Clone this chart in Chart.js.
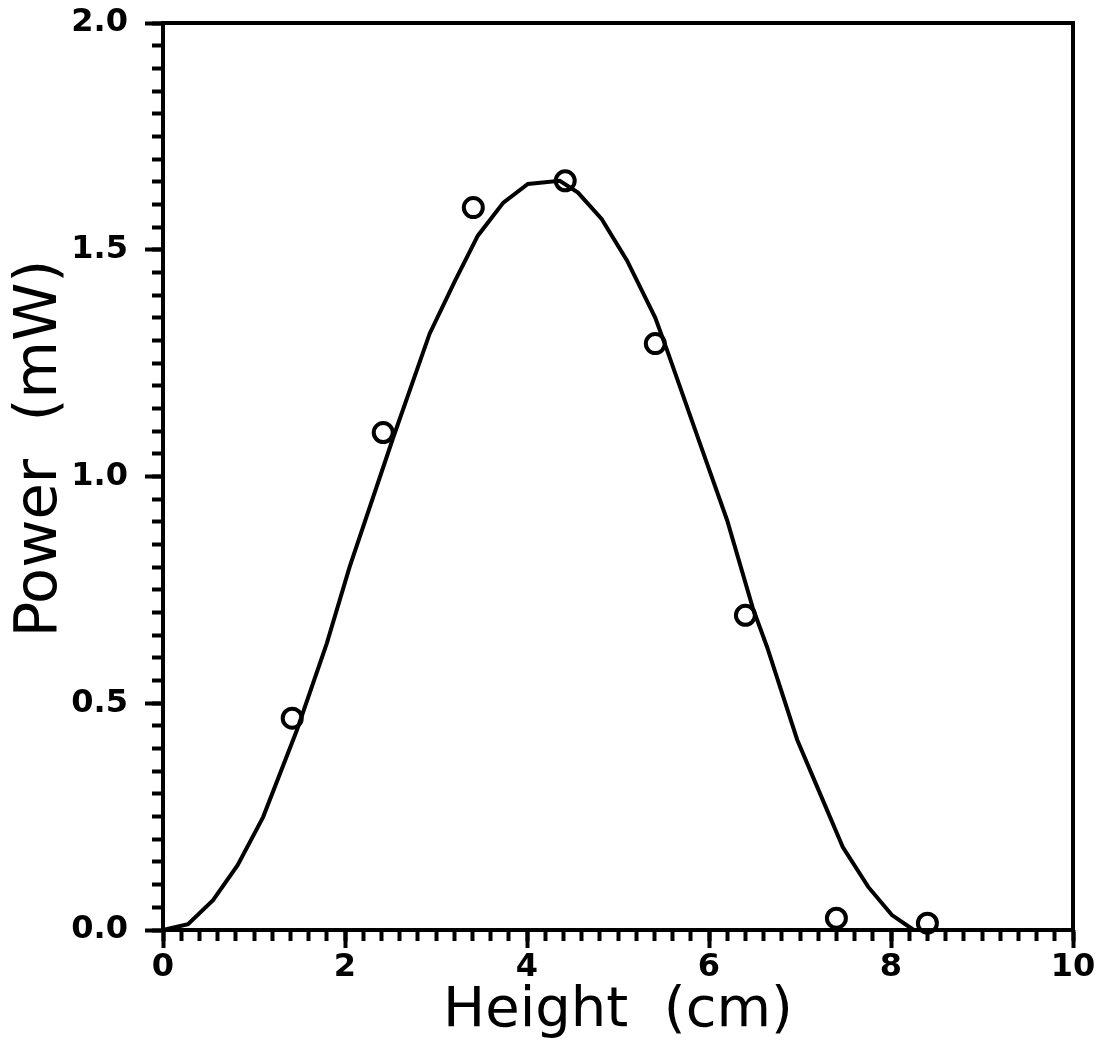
<!DOCTYPE html>
<html>
<head>
<meta charset="utf-8">
<script src="https://cdn.jsdelivr.net/npm/chart.js@4.4.0/dist/chart.umd.min.js"></script>
<style>
  html, body { margin: 0; padding: 0; background: #fff; }
  #wrap { width: 1104px; height: 1051px; }
</style>
</head>
<body>
<div id="wrap"><canvas id="graph" width="1104" height="1051"></canvas></div>
<script>
// measured points (open circles)
const heightPoints = [1.42, 2.42, 3.41, 4.42, 5.41, 6.40, 7.40, 8.40];
const powerPoints = [0.467, 1.097, 1.593, 1.652, 1.293, 0.694, 0.026, 0.015];

// fitted curve
const curveHeight = [0, 0.275, 0.55, 0.82, 1.10, 1.47, 1.80, 2.05, 2.53, 2.93, 3.21, 3.46, 3.74, 4.01, 4.36,
    4.56, 4.82, 5.10, 5.41, 5.54, 5.90, 6.20, 6.48, 6.64, 6.97, 7.19, 7.47, 7.75, 8.01, 8.25];
const curvePower = [0, 0.013, 0.066, 0.143, 0.249, 0.44, 0.632, 0.80, 1.086, 1.315, 1.432, 1.531, 1.604, 1.645, 1.652,
    1.626, 1.568, 1.476, 1.350, 1.278, 1.073, 0.903, 0.711, 0.623, 0.419, 0.315, 0.183, 0.095, 0.033, 0.0];

const xTickLabels = ["0", "2", "4", "6", "8", "10"];
const yTickLabels = ["0.0", "0.5", "1.0", "1.5", "2.0"];

const xTitle = "Height  (cm)";
const yTitle = "Power  (mW)";

const graphCanvas = document.getElementById("graph");
const graphContext = graphCanvas.getContext("2d");

const fontName = "'DejaVu Sans', sans-serif";
const ink = "#000";

const curveData = curveHeight.map((x, i) => ({ x: x, y: curvePower[i] }));
const pointData = heightPoints.map((x, i) => ({ x: x, y: powerPoints[i] }));

// axis that only draws a border line (top / right frame)
function frameAxis(position, axis) {
    return {
        type: "linear",
        position: position,
        axis: axis,
        min: 0,
        max: axis === "x" ? 10 : 2,
        grid: { display: false },
        ticks: { display: false },
        border: { display: true, color: ink, width: 4 },
        afterFit: (scale) => {
            if (axis === "x") scale.height = 0; else scale.width = 0;
        },
    };
}

// the y title in the original sits a bit above the middle of the axis
const titleNudge = {
    id: "titleNudge",
    afterLayout(chart) {
        chart.scales.yMajor.top -= 56;
    },
};

new Chart(graphContext, {
    type: "scatter",
    data: {
        datasets: [
            {
                type: "line",
                data: curveData,
                borderColor: ink,
                borderWidth: 4,
                pointRadius: 0,
                tension: 0,
                fill: false,
                clip: false,
                xAxisID: "x",
                yAxisID: "y",
                order: 2,
            },
            {
                data: pointData,
                pointStyle: "circle",
                pointRadius: 9.5,
                pointBorderWidth: 4,
                pointBorderColor: ink,
                pointBackgroundColor: "rgba(0,0,0,0)",
                showLine: false,
                clip: false,
                xAxisID: "x",
                yAxisID: "y",
                order: 1,
            },
        ],
    },
    options: {
        responsive: false,
        devicePixelRatio: 1,
        animation: false,
        layout: { padding: { left: 0, right: 31, top: 23, bottom: 0 } },
        plugins: { legend: { display: false }, tooltip: { enabled: false } },
        scales: {
            // minor ticks, sit right on the plot edge
            x: {
                type: "linear",
                position: "bottom",
                weight: 0,
                min: 0,
                max: 10,
                grid: { display: true, drawOnChartArea: false, drawTicks: true, tickLength: 11, tickWidth: 4, tickColor: ink },
                border: { display: true, color: ink, width: 4 },
                ticks: { display: false, stepSize: 0.2, maxTicksLimit: 100, autoSkip: false },
                afterFit: (scale) => { scale.height = 0; },
            },
            y: {
                type: "linear",
                position: "left",
                weight: 0,
                min: 0,
                max: 2,
                grid: { display: true, drawOnChartArea: false, drawTicks: true, tickLength: 11, tickWidth: 4, tickColor: ink },
                border: { display: true, color: ink, width: 4 },
                ticks: { display: false, stepSize: 0.05, maxTicksLimit: 100, autoSkip: false },
                afterFit: (scale) => { scale.width = 0; },
            },
            // major ticks with labels and titles
            xMajor: {
                type: "linear",
                position: "bottom",
                weight: 1,
                min: 0,
                max: 10,
                grid: { display: true, drawOnChartArea: false, drawTicks: true, tickLength: 18, tickWidth: 4, tickColor: ink },
                border: { display: false },
                ticks: {
                    stepSize: 2,
                    autoSkip: false,
                    padding: 0,
                    color: ink,
                    font: { family: fontName, size: 32, weight: "bold" },
                    callback: (value) => xTickLabels[Math.round(value / 2)],
                },
                title: {
                    display: true,
                    text: xTitle,
                    color: ink,
                    font: { family: fontName, size: 56, weight: "normal", lineHeight: 1 },
                    padding: { top: 0, bottom: 12 },
                },
                afterFit: (scale) => {
                    scale.height = 121;
                    scale.paddingLeft = 0;
                    scale.paddingRight = 0;
                },
            },
            yMajor: {
                type: "linear",
                position: "left",
                weight: 1,
                min: 0,
                max: 2,
                grid: { display: true, drawOnChartArea: false, drawTicks: true, tickLength: 18, tickWidth: 4, tickColor: ink },
                border: { display: false },
                ticks: {
                    stepSize: 0.5,
                    autoSkip: false,
                    padding: 17,
                    color: ink,
                    font: { family: fontName, size: 32, weight: "bold" },
                    callback: (value) => yTickLabels[Math.round(value / 0.5)],
                },
                title: {
                    display: true,
                    text: yTitle,
                    color: ink,
                    font: { family: fontName, size: 59, weight: "normal", lineHeight: 1 },
                    padding: { top: 11, bottom: 0 },
                },
                afterFit: (scale) => {
                    scale.width = 163;
                    scale.paddingTop = 0;
                    scale.paddingBottom = 0;
                },
            },
            xTop: frameAxis("top", "x"),
            yRight: frameAxis("right", "y"),
        },
    },
    plugins: [titleNudge],
});
</script>
</body>
</html>
